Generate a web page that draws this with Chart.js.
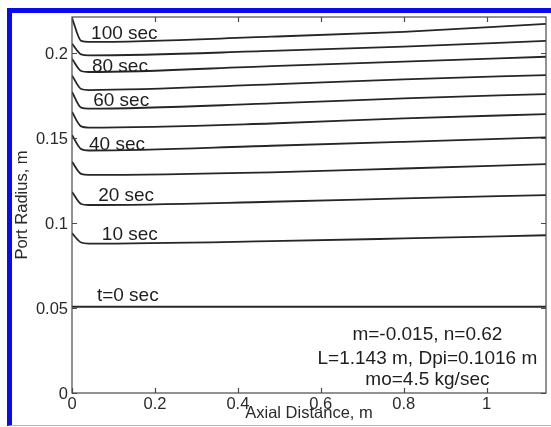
<!DOCTYPE html>
<html>
<head>
<meta charset="utf-8">
<script src="https://cdn.jsdelivr.net/npm/chart.js@4.4.0/dist/chart.umd.min.js"></script>
<style>
  html, body { margin: 0; padding: 0; background: #fff; }
  #wrap { position: relative; width: 551px; height: 427px; overflow: hidden; }
  #frame {
    position: absolute; left: 7px; top: 8px; width: 544px; height: 418px; box-sizing: border-box;
    border-top: 5px solid #0a0af0; border-left: 5px solid #0a0af0; border-bottom: 1px solid #a9a9ff;
    pointer-events: none;
  }
  canvas { position: absolute; left: 0; top: 0; }
</style>
</head>
<body>
<div id="wrap">
  <canvas id="chart" width="551" height="427"></canvas>
  <div id="frame"></div>
</div>
<script>
// axial positions (m) where the radius was read
const axialPos = [0, 0.022, 0.04, 0.48, 0.8, 1.143];

// port radius (m) for t = 0, 10, ... 100 sec
const r0   = [0.0508, 0.0508, 0.0508, 0.0508, 0.0508, 0.0508];
const r10  = [0.0941, 0.0886, 0.0880, 0.0894, 0.0910, 0.0929];
const r20  = [0.1184, 0.1113, 0.1107, 0.1126, 0.1146, 0.1165];
const r30  = [0.1361, 0.1290, 0.1284, 0.1299, 0.1322, 0.1348];
const r40  = [0.1519, 0.1436, 0.1428, 0.1456, 0.1479, 0.1505];
const r50  = [0.1654, 0.1570, 0.1563, 0.1587, 0.1617, 0.1642];
const r60  = [0.1772, 0.1680, 0.1674, 0.1705, 0.1735, 0.1760];
const r70  = [0.1870, 0.1790, 0.1784, 0.1817, 0.1847, 0.1872];
const r80  = [0.1968, 0.1896, 0.1890, 0.1925, 0.1951, 0.1980];
const r90  = [0.2057, 0.1994, 0.1988, 0.2014, 0.2039, 0.2074];
const r100 = [0.2208, 0.2073, 0.2067, 0.2098, 0.2127, 0.2173];

const xTicks = [0, 0.2, 0.4, 0.6, 0.8, 1];
const xTickLabels = ["0", "0.2", "0.4", "0.6", "0.8", "1"];
const yTicks = [0, 0.05, 0.1, 0.15, 0.2];
const yTickLabels = ["0", "0.05", "0.1", "0.15", "0.2"];

// curve labels, anchored in data units (left edge, middle)
const curveLabels = ["100 sec", "80 sec", "60 sec", "40 sec", "20 sec", "10 sec", "t=0 sec"];
const curveLabelX = [0.046, 0.048, 0.051, 0.041, 0.063, 0.072, 0.060];
const curveLabelY = [0.2127, 0.1931, 0.1729, 0.1473, 0.1169, 0.0943, 0.0582];

const noteLines = ["m=-0.015, n=0.62", "L=1.143 m, Dpi=0.1016 m", "mo=4.5 kg/sec"];
const noteX = 0.857;
const noteY = [0.0354, 0.0212, 0.0086];

const allRadii = [r0, r10, r20, r30, r40, r50, r60, r70, r80, r90, r100];

function txt(ctx, s, x, y, size, align) {
  ctx.font = size + 'px "Liberation Sans", Arial, sans-serif';
  ctx.textAlign = align;
  ctx.textBaseline = "alphabetic";
  ctx.fillText(s, x, y + 0.358 * size);
}

const matlabAxes = {
  id: "matlabAxes",
  afterDraw(chart) {
    const ctx = chart.ctx;
    const xs = chart.scales.x, ys = chart.scales.y;
    const a = chart.chartArea;
    ctx.save();
    ctx.strokeStyle = "#4a4a4a";
    ctx.lineWidth = 1.2;
    ctx.strokeRect(a.left, a.top, a.right - a.left, a.bottom - a.top);

    ctx.beginPath();
    xTicks.forEach(v => {
      const px = Math.round(xs.getPixelForValue(v)) + 0.5;
      ctx.moveTo(px, a.bottom); ctx.lineTo(px, a.bottom - 5);
      ctx.moveTo(px, a.top); ctx.lineTo(px, a.top + 5);
    });
    yTicks.forEach(v => {
      const py = Math.round(ys.getPixelForValue(v)) + 0.5;
      ctx.moveTo(a.left, py); ctx.lineTo(a.left + 5, py);
      ctx.moveTo(a.right, py); ctx.lineTo(a.right - 5, py);
    });
    ctx.stroke();

    ctx.fillStyle = "#2a2a2a";
    xTicks.forEach((v, i) => txt(ctx, xTickLabels[i], xs.getPixelForValue(v), a.bottom + 10, 16.5, "center"));
    yTicks.forEach((v, i) => txt(ctx, yTickLabels[i], a.left - 4, ys.getPixelForValue(v), 16.5, "right"));

    txt(ctx, "Axial Distance, m", (a.left + a.right) / 2, a.bottom + 19, 16.5, "center");
    ctx.save();
    ctx.translate(21, (a.top + a.bottom) / 2);
    ctx.rotate(-Math.PI / 2);
    txt(ctx, "Port Radius, m", 0, 0, 16.5, "center");
    ctx.restore();

    ctx.fillStyle = "#1e1e1e";
    curveLabels.forEach((s, i) => txt(ctx, s, xs.getPixelForValue(curveLabelX[i]), ys.getPixelForValue(curveLabelY[i]), 19, "left"));
    noteLines.forEach((s, i) => txt(ctx, s, xs.getPixelForValue(noteX), ys.getPixelForValue(noteY[i]), 19, "center"));
    ctx.restore();
  }
};

new Chart(document.getElementById("chart").getContext("2d"), {
  type: "line",
  data: {
    datasets: allRadii.map(r => ({
      data: axialPos.map((x, i) => ({ x: x, y: r[i] })),
      borderColor: "#262626",
      borderWidth: 1.8,
      pointRadius: 0,
      cubicInterpolationMode: "monotone",
      fill: false
    }))
  },
  options: {
    responsive: false,
    animation: false,
    devicePixelRatio: 1,
    layout: { padding: { left: 72, top: 17, right: 5, bottom: 34 } },
    plugins: { legend: { display: false }, tooltip: { enabled: false } },
    scales: {
      x: { type: "linear", min: 0, max: 1.143, display: false },
      y: { type: "linear", min: 0, max: 0.2214, display: false }
    }
  },
  plugins: [matlabAxes]
});
</script>
</body>
</html>
